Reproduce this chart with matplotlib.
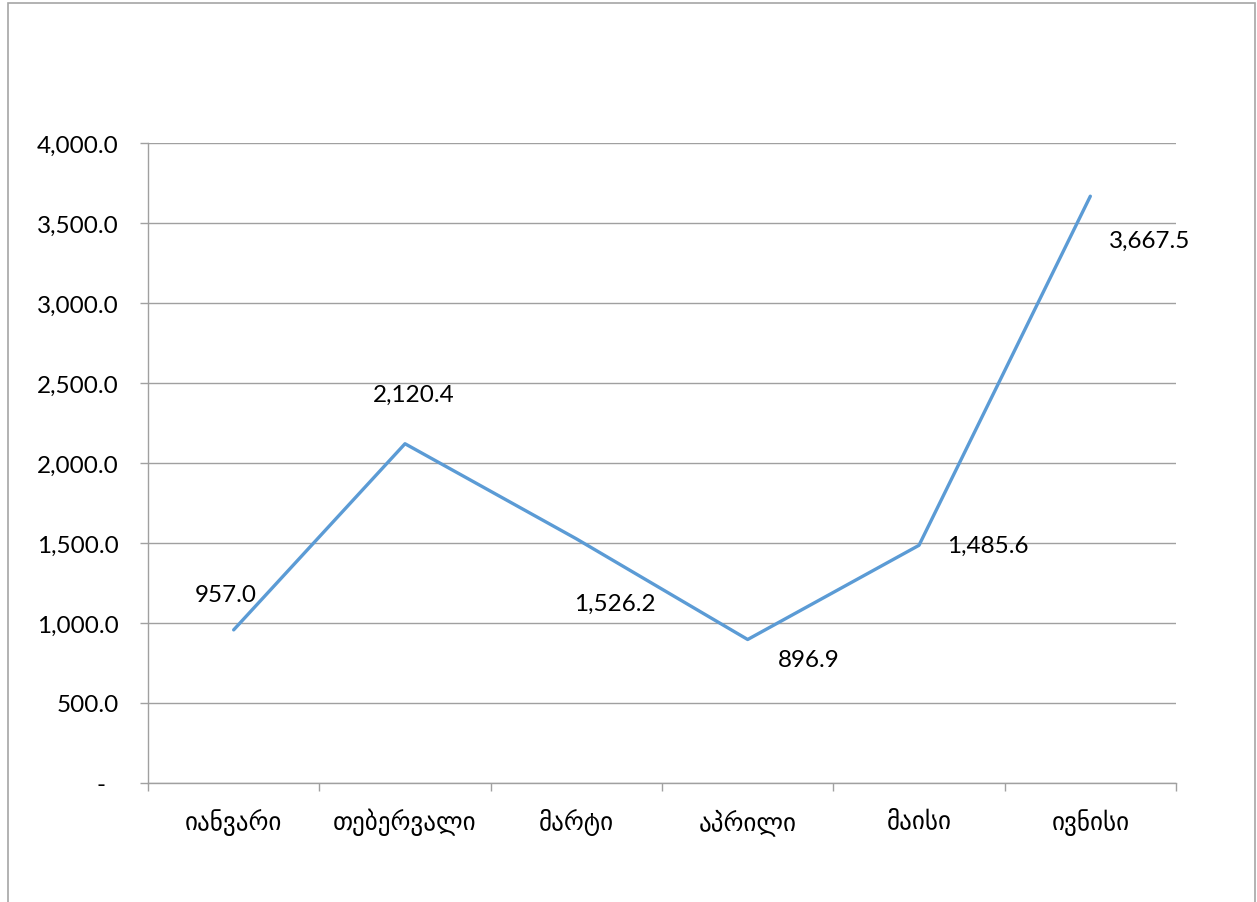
import matplotlib.pyplot as plt
from matplotlib.patches import Rectangle
from matplotlib.ticker import FuncFormatter

# თვეები და მნიშვნელობები
months = ['იანვარი', 'თებერვალი', 'მარტი', 'აპრილი', 'მაისი', 'ივნისი']
values = [957.0, 2120.4, 1526.2, 896.9, 1485.6, 3667.5]
# data label offsets in pixels (dx, dy)
label_offsets = [(-8, 35), (9, 49), (39, -65), (61, -20), (69, 0), (59, -44)]

W, H = 1257, 903
fig = plt.figure(figsize=(W / 100, H / 100), dpi=100)
ax = fig.add_axes([148 / W, 1 - 784 / H, (1176 - 148) / W, (784 - 144) / H])

fig.patches.append(Rectangle((8 / W, -0.02), (1255 - 8) / W, 1.02 - 4 / H,
                             transform=fig.transFigure, fill=False,
                             edgecolor='#a6a6a6', linewidth=1.2))

font = ['Lato', 'DejaVu Sans']
grey = '#a0a0a0'
fs = 17.5

x = list(range(len(months)))
ax.plot(x, values, color='#5b9bd5', linewidth=2.4, solid_capstyle='round')

for xi, v, (dx, dy) in zip(x, values, label_offsets):
    ax.annotate(f'{v:,.1f}', (xi, v), xytext=(dx, dy), textcoords='offset pixels',
                ha='center', va='center', fontsize=fs, family=font)

ax.set_xlim(-0.5, len(months) - 0.5)
ax.set_ylim(0, 4000)
ax.set_yticks(range(0, 4001, 500))
# accounting style: zero shown as a dash with trailing space
ax.yaxis.set_major_formatter(FuncFormatter(lambda v, p: '-  ' if v == 0 else f'{v:,.1f}'))
ax.grid(axis='y', color=grey, linewidth=1)
ax.set_axisbelow(True)

ax.set_xticks([i - 0.5 for i in range(len(months) + 1)])
ax.set_xticklabels([])
ax.set_xticks(x, minor=True)
ax.set_xticklabels(months, minor=True, fontsize=18, family=font)
ax.tick_params(axis='x', which='major', length=6, color=grey, width=1)
ax.tick_params(axis='x', which='minor', length=0, pad=18)
ax.tick_params(axis='y', length=6, color=grey, width=1, pad=15, labelsize=fs)
for lab in ax.get_yticklabels():
    lab.set_family(font)

for s in ['top', 'right']:
    ax.spines[s].set_visible(False)
for s in ['left', 'bottom']:
    ax.spines[s].set_color(grey)
    ax.spines[s].set_linewidth(1)

fig.savefig('out.png', dpi=100)
